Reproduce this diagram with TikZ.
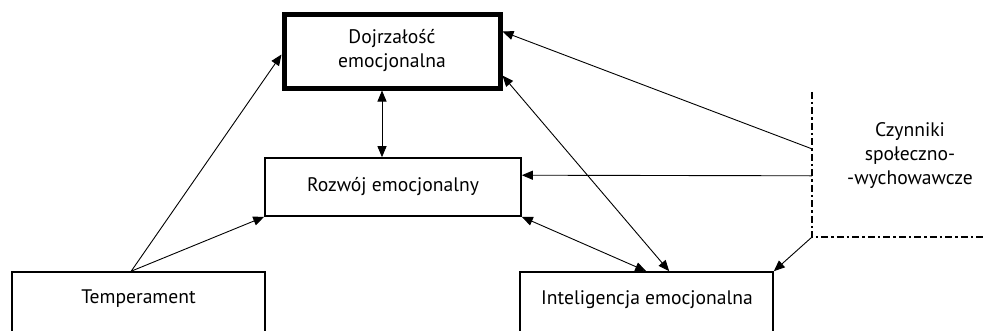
\documentclass[tikz,border=0pt]{standalone}
\usepackage{fontspec}
\setmainfont{PT Sans}
\usetikzlibrary{arrows.meta,calc}
\begin{document}
\begin{tikzpicture}[x=1pt,y=-1pt,
  box/.style={draw, line width=1.6pt, rectangle, inner sep=0pt},
  lbl/.style={font=\fontsize{19.6}{24}\selectfont, align=center, inner sep=0pt},
  conn/.style={line width=0.9pt, -{Triangle[length=11pt,width=9pt]}},
  bconn/.style={line width=0.9pt, {Triangle[length=11pt,width=9pt]}-{Triangle[length=11pt,width=9pt]}},
  dashdot/.style={line width=2.4pt, dash pattern=on 7pt off 3pt on 2.5pt off 3pt}
]
\useasboundingbox (0,0) rectangle (983,330);
\clip (0,0) rectangle (983,330);
% boxes
\node[box, line width=5pt, minimum width=216pt, minimum height=74pt, lbl] (dojo) at (392,51) {Dojrzałość\\emocjonalna};
\node[box, minimum width=256pt, minimum height=58pt, lbl] (rozw) at (393,187) {Rozwój emocjonalny};
\node[box, minimum width=253pt, minimum height=90pt] (temp) at (138.5,317) {};
\node[lbl] (tempt) at (138.5,299) {Temperament};
\node[box, minimum width=253pt, minimum height=90pt] (inte) at (646.5,317) {};
\node[lbl] (intet) at (647,300) {Inteligencja emocjonalna};
\node[inner sep=0pt, minimum width=190pt, minimum height=145pt] (czyn) at (907,164.5) {};
\node[lbl] (czynt) at (910,156) {Czynniki\\społeczno-\\-wychowawcze};
\draw[dashdot] (czyn.north west) -- (czyn.south west) -- (czyn.south east);
% connectors
\coordinate (tp) at ($(temp.north west)+(120,0)$);
\draw[conn] (tp) -- ($(dojo.north west)+(0,43)$);
\draw[conn] (tp) -- (rozw.south west);
\draw[bconn] ($(dojo.south)+(-10,0)$) -- ($(rozw.north)+(-11,0)$);
\draw[conn] ($(czyn.north west)+(0,57)$) -- ($(dojo.north east)+(0,20)$);
\draw[conn] ($(czyn.north west)+(0,84)$) -- ($(rozw.north east)+(0,18)$);
\draw[conn] (czyn.south west) -- (inte.north east);
\draw[bconn] ($(dojo.south east)+(0,-15)$) -- ($(inte.north west)+(150,0)$);
\draw[bconn] (rozw.south east) -- ($(inte.north west)+(127,0)$);
\end{tikzpicture}
\end{document}
